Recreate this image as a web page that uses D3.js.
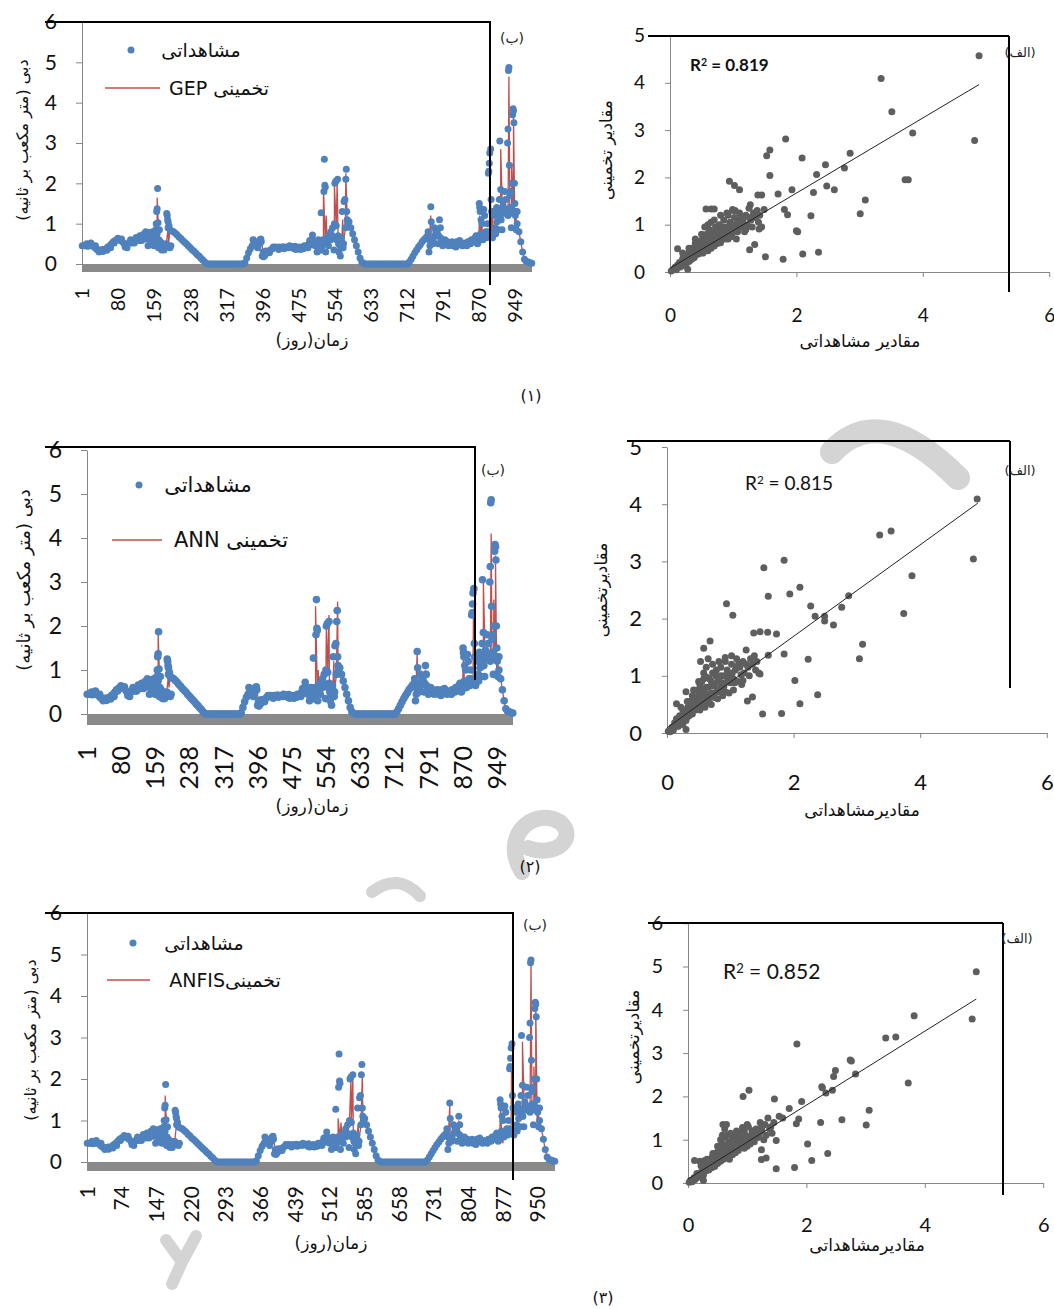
<!DOCTYPE html>
<html>
<head>
<meta charset="utf-8">
<script src="https://cdn.jsdelivr.net/npm/d3@7"></script>
<style>
  body { margin: 0; background: #fff; }
  svg { display: block; }
  .fa { font-family: "DejaVu Sans", sans-serif; direction: rtl; unicode-bidi: embed; }
  .num { font-family: Lato, "Open Sans", sans-serif; }
</style>
</head>
<body>
<svg id="fig" width="1054" height="1309"></svg>
<script>
// ---- data ----
const nDays = 985;
const yTicksSeries = [0, 1, 2, 3, 4, 5, 6];
const dayTicksA = [1, 80, 159, 238, 317, 396, 475, 554, 633, 712, 791, 870, 949];
const dayTicksB = [1, 74, 147, 220, 293, 366, 439, 512, 585, 658, 731, 804, 877, 950];

// observed discharge, main band [day, m3/s]
const obsBase = [
  [1,0.45],[5,0.45],[9,0.45],[13,0.44],[17,0.45],[21,0.48],[25,0.44],[29,0.40],[33,0.36],[37,0.35],
  [41,0.34],[45,0.36],[49,0.35],[53,0.38],[57,0.42],[61,0.45],[65,0.50],[69,0.55],[73,0.58],[77,0.60],
  [81,0.60],[85,0.58],[89,0.55],[93,0.50],[97,0.45],[101,0.50],[105,0.55],[109,0.52],[113,0.58],[117,0.60],
  [121,0.62],[125,0.58],[129,0.65],[133,0.68],[137,0.62],[141,0.70],[145,0.72],[149,0.65],[153,0.60],[157,0.70],
  [161,0.55],[165,0.75],[169,0.60],[173,0.50],[177,0.45],[181,0.40],[185,0.50],[189,0.90],[193,0.85],[197,0.82],
  [201,0.80],[205,0.76],[209,0.72],[213,0.67],[217,0.63],[221,0.58],[225,0.54],[229,0.50],[233,0.45],[237,0.41],
  [241,0.36],[245,0.32],[249,0.28],[253,0.23],[257,0.19],[261,0.14],[265,0.10],[269,0.05],[273,0.01],[277,0],
  [281,0],[285,0],[289,0],[293,0],[297,0],[301,0],[305,0],[309,0],[313,0],[317,0],
  [321,0],[325,0],[329,0],[333,0],[337,0],[341,0],[345,0],[349,0],[353,0],[357,0.03],
  [361,0.15],[365,0.28],[369,0.38],[373,0.45],[377,0.50],[381,0.45],[385,0.40],[389,0.50],[393,0.55],[397,0.30],
  [401,0.22],[405,0.28],[409,0.32],[413,0.35],[417,0.38],[421,0.40],[425,0.42],[429,0.40],[433,0.42],[437,0.40],
  [441,0.43],[445,0.41],[449,0.42],[453,0.40],[457,0.42],[461,0.43],[465,0.38],[469,0.36],[473,0.40],[477,0.42],
  [481,0.40],[485,0.38],[489,0.42],[493,0.45],[497,0.50],[501,0.55],[505,0.62],[509,0.55],[513,0.50],[517,0.45],
  [521,0.40],[525,0.35],[529,0.50],[533,0.55],[537,0.60],[541,0.70],[545,0.80],[549,0.90],[553,1.00],[557,0.95],
  [561,0.70],[565,0.60],[569,0.55],[573,0.50],[577,0.90],[581,1.10],[585,1.05],[589,0.90],[593,0.75],[597,0.60],
  [601,0.45],[605,0.30],[609,0.15],[613,0.05],[617,0.01],[621,0],[625,0],[629,0],[633,0],[637,0],
  [641,0],[645,0],[649,0],[653,0],[657,0],[661,0],[665,0],[669,0],[673,0],[677,0],
  [681,0],[685,0],[689,0],[693,0],[697,0],[701,0],[705,0],[709,0],[713,0],[717,0.05],
  [721,0.12],[725,0.20],[729,0.28],[733,0.35],[737,0.42],[741,0.48],[745,0.55],[749,0.60],[753,0.65],[757,0.70],
  [761,0.60],[765,0.55],[769,0.60],[773,0.70],[777,0.75],[781,0.70],[785,0.65],[789,0.60],[793,0.55],[797,0.50],
  [801,0.55],[805,0.50],[809,0.48],[813,0.45],[817,0.50],[821,0.55],[825,0.50],[829,0.48],[833,0.45],[837,0.50],
  [841,0.50],[845,0.55],[849,0.55],[853,0.60],[857,0.60],[861,0.65],[865,0.60],[869,0.65],[873,0.75],[877,0.65],
  [881,0.70],[885,0.75],[889,0.80],[893,0.70],[897,0.75],[901,0.75],[905,0.90],[909,1.05],[913,1.20],[917,1.10],
  [921,1.25],[925,1.30],[929,1.35],[933,1.20],[937,1.30],[941,1.35],[945,1.25],[949,1.20],[953,1.00],[957,0.80],
  [961,0.55],[965,0.30],[969,0.12],[973,0.06],[977,0.05],[981,0.03],[985,0.02]
];

// observed discharge, scattered extra readings [day, m3/s]
const obsSpikes = [
  [11,0.50],[20,0.52],[30,0.45],[38,0.30],[46,0.31],[55,0.34],[63,0.40],[71,0.52],[79,0.64],[87,0.62],
  [95,0.42],[99,0.40],[107,0.60],[115,0.52],[119,0.66],[127,0.70],[131,0.58],[135,0.74],[143,0.62],[147,0.78],
  [140,0.80],[145,0.45],[150,0.50],[155,0.80],[158,0.45],[160,0.55],[162,0.85],[163,1.00],[164,1.30],[165,1.37],
  [166,1.87],[167,1.02],[168,0.40],[170,0.85],[172,0.55],[175,0.35],[178,0.50],[180,0.35],[183,0.45],
  [186,1.25],[187,1.20],[188,1.10],[189,1.05],[191,0.95],[193,0.40],[195,0.45],
  [375,0.60],[380,0.55],[390,0.60],[392,0.62],[395,0.20],[398,0.18],[403,0.32],[411,0.28],[419,0.42],[431,0.36],
  [443,0.38],[455,0.45],[467,0.44],[479,0.36],[487,0.45],[495,0.40],[499,0.58],[503,0.48],[511,0.45],
  [505,0.72],[515,0.30],[518,0.60],[522,0.35],[524,1.27],[526,0.45],[528,0.60],[530,1.80],[531,2.60],[532,1.95],
  [533,1.90],[534,0.30],[536,0.65],[540,0.45],[545,0.60],[548,0.70],[552,0.35],[554,2.00],[556,2.05],[558,0.60],
  [560,2.10],[562,0.50],[563,0.30],[565,0.45],[566,0.20],[568,0.65],[570,1.30],[572,0.40],[574,1.55],[576,1.60],
  [578,2.10],[579,2.35],[580,1.30],[582,1.00],
  [758,0.80],[760,0.30],[762,0.45],[764,1.42],[765,1.05],[768,0.50],[772,0.90],[775,0.80],[780,0.50],[783,1.10],
  [785,0.90],[790,0.45],[795,0.60],[803,0.45],[811,0.55],[819,0.42],[827,0.58],[835,0.52],[843,0.45],[851,0.50],
  [859,0.55],[863,0.70],[867,0.52],
  [866,0.50],[870,1.50],[871,1.40],[872,1.30],[874,1.10],[876,1.00],[878,0.60],[880,1.35],[882,1.20],[884,0.80],
  [886,0.65],[888,1.00],[890,2.25],[891,2.30],[892,2.50],[893,2.75],[895,2.85],[896,1.60],[897,1.30],[899,0.65],
  [902,1.30],[904,1.20],[906,0.75],[908,1.40],[910,1.30],[912,0.85],[914,1.60],[915,3.05],[917,1.85],[918,1.10],
  [920,0.85],[922,1.45],[924,1.30],[926,1.80],[928,1.60],[930,1.25],[932,3.00],[933,3.35],[934,4.80],[935,4.87],
  [936,2.45],[937,1.70],[938,1.40],[939,1.80],[940,0.90],[942,2.00],[943,3.70],[944,3.85],[945,3.80],[946,3.50],
  [947,2.00],[948,1.50],[949,1.30],[951,0.85],[953,1.30]
];

// predicted excursions away from the observed band, per model [day, m3/s]
const gepPeaks = [[165,1.65],[190,0.50],[523,0.65],[529,1.90],[535,1.20],[553,1.95],[559,2.00],[571,1.10],[578,2.25],
  [764,1.20],[783,0.95],[871,1.20],[876,1.00],[893,2.20],[899,1.30],[917,2.85],[926,1.60],[935,4.65],[941,2.50],[945,3.75],[948,0.85]];
const annPeaks = [[165,1.85],[190,0.60],[529,2.45],[535,1.00],[554,2.05],[560,2.25],[571,1.20],[580,2.55],
  [764,1.40],[783,1.00],[871,1.30],[894,2.40],[917,3.05],[926,1.50],[935,4.10],[941,2.60],[945,3.60],[948,0.80]];
const anfisPeaks = [[165,1.60],[529,1.05],[535,0.95],[556,2.00],[560,2.00],[571,0.90],[580,2.10],
  [764,1.35],[783,1.00],[871,1.30],[876,0.45],[894,2.20],[917,2.90],[926,1.40],[935,4.85],[941,2.30],[945,3.85],[948,0.90]];

// scatter: [observed, predicted]
const gepPairs = [
  [0.02,0.02],[0.05,0.05],[0.08,0.10],[0.10,0.05],[0.12,0.15],[0.15,0.20],[0.18,0.12],[0.20,0.28],[0.22,0.20],[0.25,0.35],
  [0.25,0.15],[0.28,0.30],[0.30,0.42],[0.30,0.22],[0.33,0.35],[0.35,0.50],[0.35,0.28],[0.38,0.42],[0.40,0.60],[0.40,0.35],
  [0.42,0.48],[0.45,0.55],[0.45,0.38],[0.48,0.65],[0.48,0.45],[0.50,0.52],[0.52,0.72],[0.52,0.40],[0.55,0.60],[0.55,0.48],
  [0.58,0.80],[0.58,0.55],[0.60,0.65],[0.60,0.45],[0.62,0.90],[0.63,0.58],[0.65,0.72],[0.65,1.05],[0.68,0.62],[0.70,0.85],
  [0.70,0.55],[0.72,0.95],[0.75,0.70],[0.75,0.80],[0.78,1.00],[0.80,0.75],[0.80,0.62],[0.82,0.90],[0.85,1.10],[0.85,0.80],
  [0.88,0.70],[0.90,0.95],[0.92,1.20],[0.95,0.85],[0.95,1.05],[0.98,0.75],[1.00,1.00],[1.02,1.15],[1.05,0.90],[1.05,0.70],
  [1.08,1.05],[1.10,1.25],[1.12,0.95],[1.15,1.10],[1.18,0.85],[1.20,1.20],[1.22,1.00],[1.25,1.35],[1.28,1.10],[1.30,0.95],
  [1.32,1.25],[1.35,1.15],[1.38,1.30],[1.40,1.05],[1.42,1.20],[1.45,0.95],
  [0.15,0.10],[0.20,0.15],[0.25,0.25],[0.30,0.30],[0.32,0.25],[0.35,0.40],[0.38,0.30],[0.40,0.45],[0.42,0.38],[0.45,0.45],
  [0.47,0.55],[0.50,0.42],[0.50,0.62],[0.53,0.55],[0.55,0.70],[0.57,0.45],[0.60,0.55],[0.62,0.70],[0.65,0.50],[0.67,0.80],
  [0.70,0.65],[0.72,0.75],[0.75,0.60],[0.77,0.90],[0.80,0.85],[0.83,0.70],[0.85,0.95],[0.87,0.85],[0.90,0.80],[0.92,0.70],
  [0.95,1.00],[0.97,0.95],[1.00,0.85],[1.03,1.00],[1.07,0.85],[1.10,1.10],[1.13,1.15],[1.17,1.00],[1.20,0.90],[1.25,1.15],
  [0.20,0.40],[0.30,0.50],[0.40,0.70],[0.50,0.80],[0.55,0.95],[0.60,1.00],[0.70,1.10],[0.80,1.20],[0.90,1.25],[1.00,1.30],
  [4.89,4.57],[3.34,4.09],[3.51,3.39],[3.84,2.94],[4.82,2.78],[3.72,1.95],[3.77,1.95],[3.09,1.52],[3.01,1.23],[1.83,2.81],
  [1.58,2.58],[1.53,2.46],[1.58,2.04],[2.09,2.41],[2.46,2.27],[2.32,2.06],[2.85,2.51],[2.76,2.20],[2.48,1.82],[2.60,1.74],
  [2.27,1.68],[1.93,1.74],[1.71,1.65],[1.39,1.63],[1.45,1.63],[0.94,1.92],[1.02,1.83],[1.10,1.74],[1.81,1.32],[1.86,1.21],
  [2.23,1.19],[2.02,0.85],[2.00,0.87],[2.10,0.38],[2.35,0.42],[1.79,0.27],[1.51,0.32],[1.34,0.58],[1.26,0.47],[1.41,0.91],
  [0.12,0.49],[0.28,0.06],[0.57,1.33],[0.65,1.33],[0.70,1.33],[0.99,1.32],[1.03,1.30],[1.27,1.42],[1.49,1.32]
];
const annPairs = [
  [0.02,0.03],[0.05,0.02],[0.08,0.10],[0.10,0.05],[0.12,0.18],[0.15,0.25],[0.18,0.12],[0.20,0.30],[0.22,0.20],[0.25,0.40],
  [0.25,0.15],[0.28,0.32],[0.30,0.72],[0.30,0.22],[0.33,0.45],[0.35,0.55],[0.35,0.30],[0.38,0.40],[0.40,0.65],[0.40,0.33],
  [0.42,0.50],[0.45,0.60],[0.45,0.40],[0.48,0.75],[0.48,0.45],[0.50,0.55],[0.52,0.85],[0.52,0.40],[0.55,0.90],[0.55,0.50],
  [0.58,0.95],[0.58,0.60],[0.60,0.70],[0.60,0.45],[0.62,1.15],[0.63,0.55],[0.65,0.80],[0.65,1.30],[0.68,0.62],[0.70,0.90],
  [0.70,0.50],[0.72,1.05],[0.75,0.70],[0.75,0.85],[0.78,1.10],[0.80,0.75],[0.80,0.60],[0.82,0.95],[0.85,1.15],[0.85,0.80],
  [0.88,0.65],[0.90,1.00],[0.92,1.25],[0.95,0.90],[0.95,1.10],[0.98,0.70],[1.00,1.00],[1.02,1.20],[1.05,0.95],[1.05,0.75],
  [1.08,1.10],[1.10,1.30],[1.12,0.90],[1.15,1.15],[1.18,0.85],[1.20,1.25],[1.22,1.05],[1.25,1.45],[1.28,1.15],[1.30,1.00],
  [1.32,1.30],[1.35,1.20],[1.38,1.35],[1.40,1.10],[1.42,1.25],[1.45,1.05],
  [0.15,0.12],[0.20,0.18],[0.25,0.28],[0.30,0.35],[0.32,0.28],[0.35,0.45],[0.38,0.55],[0.40,0.48],[0.42,0.40],[0.45,0.50],
  [0.47,0.62],[0.50,0.45],[0.50,0.68],[0.53,0.60],[0.55,0.75],[0.57,0.48],[0.60,0.62],[0.62,0.80],[0.65,0.55],[0.67,0.95],
  [0.70,0.70],[0.72,0.82],[0.75,0.62],[0.77,1.00],[0.80,0.90],[0.83,0.72],[0.85,1.00],[0.87,0.88],[0.90,0.82],[0.92,0.72],
  [0.95,1.02],[0.97,0.98],[1.00,0.88],[1.03,1.05],[1.07,0.88],[1.10,1.15],[1.13,1.20],[1.17,1.02],[1.20,0.92],[1.25,1.20],
  [0.22,0.45],[0.32,0.55],[0.42,0.75],[0.50,0.90],[0.58,1.05],[0.62,0.98],[0.72,1.20],[0.82,1.25],[0.92,1.32],[1.02,1.35],
  [4.90,4.09],[3.36,3.46],[3.54,3.53],[4.84,3.04],[3.87,2.75],[3.74,2.09],[3.09,1.55],[3.04,1.30],[1.85,3.02],[1.53,2.89],
  [1.60,2.39],[1.94,2.43],[2.10,2.55],[2.27,2.22],[2.34,2.04],[2.49,2.04],[2.49,1.96],[2.63,1.89],[2.76,2.20],[2.87,2.40],
  [0.94,2.26],[1.04,2.06],[1.37,1.75],[1.47,1.77],[1.59,1.76],[1.73,1.73],[1.85,1.38],[1.60,1.36],[2.23,1.29],[2.02,0.92],
  [2.10,0.51],[2.38,0.67],[1.81,0.34],[1.51,0.33],[1.27,0.56],[1.35,0.63],[1.47,1.03],[0.68,1.61],[0.58,1.48],[0.53,1.25],
  [0.30,0.06],[0.15,0.51]
];
const anfisPairs = [
  [0.02,0.02],[0.04,0.06],[0.07,0.03],[0.10,0.12],[0.12,0.08],[0.15,0.22],[0.18,0.15],[0.20,0.50],[0.22,0.25],[0.25,0.35],
  [0.26,0.18],[0.28,0.52],[0.30,0.28],[0.32,0.40],[0.35,0.50],[0.35,0.30],[0.38,0.45],[0.40,0.58],[0.40,0.35],[0.42,0.62],
  [0.45,0.50],[0.45,0.38],[0.48,0.70],[0.50,0.45],[0.50,0.60],[0.52,0.80],[0.55,0.50],[0.55,0.65],[0.58,0.90],[0.58,1.10],
  [0.60,0.55],[0.60,0.75],[0.62,1.25],[0.63,0.85],[0.65,0.60],[0.66,1.10],[0.68,0.70],[0.70,0.95],[0.70,0.55],[0.72,0.80],
  [0.75,1.05],[0.75,0.65],[0.78,0.90],[0.80,1.10],[0.80,0.70],[0.82,0.85],[0.85,1.00],[0.85,0.75],[0.88,1.15],[0.90,0.90],
  [0.92,1.05],[0.95,0.80],[0.95,1.20],[0.98,1.00],[1.00,0.85],[1.02,1.30],[1.05,1.05],[1.05,0.90],[1.08,1.20],[1.10,1.00],
  [1.12,0.95],[1.15,1.25],[1.18,1.05],[1.20,1.10],[1.22,1.40],[1.25,1.20],[1.28,1.00],[1.30,1.35],[1.32,1.10],[1.35,1.50],
  [1.38,1.25],[1.40,1.30],[1.42,1.15],[1.45,1.40],
  [0.15,0.12],[0.20,0.20],[0.25,0.22],[0.30,0.38],[0.32,0.30],[0.35,0.42],[0.38,0.35],[0.40,0.48],[0.42,0.45],[0.45,0.58],
  [0.47,0.48],[0.50,0.52],[0.50,0.70],[0.53,0.62],[0.55,0.78],[0.57,0.55],[0.60,0.68],[0.62,0.60],[0.65,0.78],[0.67,0.90],
  [0.70,0.75],[0.72,0.68],[0.75,0.85],[0.77,0.95],[0.80,0.82],[0.83,0.95],[0.85,0.88],[0.87,1.05],[0.90,1.00],[0.92,0.85],
  [0.95,1.00],[0.97,1.10],[1.00,1.05],[1.03,0.95],[1.07,1.10],[1.10,1.20],[1.13,1.08],[1.17,1.15],[1.20,1.25],[1.25,1.30],
  [0.22,0.40],[0.32,0.55],[0.42,0.68],[0.50,0.85],[0.55,1.00],[0.62,1.05],[0.72,1.15],[0.82,1.20],[0.92,1.28],[1.00,1.35],
  [4.87,4.88],[3.82,3.86],[4.80,3.79],[3.34,3.35],[3.51,3.37],[3.72,2.31],[3.06,1.68],[3.01,1.34],[1.84,3.21],[2.74,2.84],
  [2.76,2.82],[2.83,2.52],[2.49,2.60],[2.46,2.46],[2.26,2.22],[2.27,2.20],[2.44,2.14],[2.33,2.08],[0.93,2.00],[1.03,2.14],
  [1.46,1.94],[1.92,1.88],[1.71,1.72],[1.54,1.54],[1.60,1.50],[1.87,1.48],[1.83,1.37],[2.24,1.40],[2.60,1.46],[2.02,0.90],
  [2.09,0.52],[2.36,0.68],[1.80,0.36],[1.49,0.33],[1.24,0.54],[1.32,0.58],[1.24,0.77],[1.49,0.98],[0.26,0.06],[0.11,0.52],
  [0.59,1.35],[0.65,1.35]
];

const r2Values = [0.819, 0.815, 0.852];
const fitSlope = [0.794, 0.800, 0.854];
const fitIntercept = [0.08, 0.09, 0.09];
const fitEnd = [4.89, 4.91, 4.87];

const obsLabel = "مشاهداتی";
const predLabels = ["تخمینی GEP", "تخمینی ANN", "تخمینیANFIS"];
const seriesYTitle = "دبی (متر مکعب بر ثانیه)";
const seriesXTitle = "زمان(روز)";
const scatterXTitles = ["مقادیر مشاهداتی", "مقادیرمشاهداتی", "مقادیرمشاهداتی"];
const scatterYTitles = ["مقادیر تخمینی", "مقادیرتخمینی", "مقادیرتخمینی"];
const captions = ["(۱)", "(۲)", "(۳)"];

const svg = d3.select("#fig");

// faint watermark strokes behind everything
const wm = svg.append("g").attr("fill", "none").attr("stroke", "#d4d4d4").attr("stroke-linecap", "round");
wm.append("path").attr("d", "M832,452 Q880,400 958,478").attr("stroke-width", 24);
wm.append("path").attr("d", "M522,872 C500,838 532,806 560,822 C578,838 556,858 528,848").attr("stroke-width", 16);
wm.append("path").attr("d", "M372,892 Q398,872 420,896").attr("stroke-width", 12);
wm.append("path").attr("d", "M166,1240 L182,1262 L196,1236 M182,1262 L172,1284").attr("stroke-width", 12);

function grayAxis(sel) {
  sel.select(".domain").attr("stroke", "#868686");
  sel.selectAll(".tick line").attr("stroke", "#868686");
}

function drawSeries(cfg) {
  const g = svg.append("g");
  const x = d3.scaleLinear().domain([0.5, nDays + 0.5]).range([cfg.left, cfg.right]);
  const y = d3.scaleLinear().domain([0, 6]).range([cfg.y0, cfg.y6]);

  // grey floor under the zero line
  g.append("rect")
    .attr("x", cfg.left).attr("y", y(0))
    .attr("width", cfg.right - cfg.left).attr("height", cfg.band)
    .attr("fill", "#8a8a8a");

  g.append("g")
    .attr("transform", `translate(${cfg.left},0)`)
    .call(d3.axisLeft(y).tickValues(yTicksSeries).tickSize(6).tickSizeOuter(0).tickFormat(d3.format("d")))
    .call(grayAxis)
    .call((a) => a.selectAll("text").attr("class", "num").attr("font-size", cfg.yFont)
      .attr("fill", "#111").attr("x", -25));

  // rotated day labels
  g.selectAll("text.day")
    .data(cfg.ticks)
    .join("text")
    .attr("class", "num day")
    .attr("transform", (d) => `translate(${x(d)},${cfg.labTop}) rotate(-90)`)
    .attr("text-anchor", "end")
    .attr("dy", "0.35em")
    .attr("font-size", cfg.xFont)
    .attr("fill", "#111")
    .text((d) => d);

  // predicted line: observed band with the model's own excursions
  const predicted = d3.sort(obsBase.concat(cfg.peaks), (d) => d[0]);
  g.append("path")
    .datum(predicted)
    .attr("fill", "none")
    .attr("stroke", "#C0504D")
    .attr("stroke-width", 1.3)
    .attr("d", d3.line().x((d) => x(d[0])).y((d) => y(d[1])));

  g.append("g")
    .selectAll("circle")
    .data(obsBase.concat(obsSpikes))
    .join("circle")
    .attr("cx", (d) => x(d[0]))
    .attr("cy", (d) => y(d[1]))
    .attr("r", cfg.r)
    .attr("fill", "#4F81BD");

  // legend
  const L = cfg.legend;
  g.append("circle").attr("cx", L.dotX).attr("cy", L.dotY).attr("r", 3.5).attr("fill", "#4F81BD");
  g.append("text").attr("class", "fa").attr("x", L.obsX).attr("y", L.dotY).attr("dy", "0.35em")
    .attr("text-anchor", "middle").attr("font-size", L.font).attr("fill", "#111").text(obsLabel);
  g.append("line").attr("x1", L.lineX1).attr("x2", L.lineX2).attr("y1", L.lineY).attr("y2", L.lineY)
    .attr("stroke", "#C0504D").attr("stroke-width", 1.3);
  g.append("text").attr("class", "fa").attr("x", L.predX).attr("y", L.lineY).attr("dy", "0.35em")
    .attr("text-anchor", "middle").attr("font-size", L.font).attr("fill", "#111").text(cfg.predLabel);

  // titles
  g.append("text").attr("class", "fa")
    .attr("transform", `translate(${cfg.yTitle[0]},${cfg.yTitle[1]}) rotate(-90)`)
    .attr("text-anchor", "middle").attr("dy", "0.35em")
    .attr("font-size", cfg.yTitle[2]).attr("fill", "#111").text(seriesYTitle);
  g.append("text").attr("class", "fa").attr("x", cfg.xTitle[0]).attr("y", cfg.xTitle[1])
    .attr("text-anchor", "middle").attr("font-size", 17).attr("fill", "#111").text(seriesXTitle);

  // frame lines of the page layout
  const F = cfg.frame;
  g.append("path")
    .attr("d", `M${F.x1},${F.top}H${F.vx}V${F.bottom}`)
    .attr("fill", "none").attr("stroke", "#000").attr("stroke-width", 2);
  g.append("text").attr("class", "fa").attr("x", cfg.tag[0]).attr("y", cfg.tag[1])
    .attr("text-anchor", "middle").attr("dy", "0.35em").attr("font-size", 14).attr("fill", "#222").text("(ب)");
}

function drawScatter(cfg, i) {
  const g = svg.append("g");
  const x = d3.scaleLinear().domain([0, 6]).range([cfg.x0, cfg.x0 + 6 * cfg.ux]);
  const y = d3.scaleLinear().domain([0, cfg.ymax]).range([cfg.y0, cfg.y0 - cfg.ymax * cfg.uy]);

  g.append("g")
    .attr("transform", `translate(0,${cfg.y0})`)
    .call(d3.axisBottom(x).tickValues([0, 2, 4, 6]).tickSize(5).tickSizeOuter(0).tickFormat(d3.format("d")))
    .call(grayAxis)
    .call((a) => a.selectAll("text").attr("class", "num").attr("font-size", cfg.tickFont)
      .attr("fill", "#111").attr("y", cfg.xLabOff).attr("dy", "0.35em"));

  g.append("g")
    .attr("transform", `translate(${cfg.x0},0)`)
    .call(d3.axisLeft(y).tickValues(d3.range(0, cfg.ymax + 1)).tickSize(5).tickSizeOuter(0).tickFormat(d3.format("d")))
    .call(grayAxis)
    .call((a) => a.selectAll("text").attr("class", "num").attr("font-size", cfg.tickFont)
      .attr("fill", "#111").attr("x", -25));

  g.append("g")
    .selectAll("circle")
    .data(cfg.pairs)
    .join("circle")
    .attr("cx", (d) => x(d[0]))
    .attr("cy", (d) => y(d[1]))
    .attr("r", 3.5)
    .attr("fill", "#5e5e5e");

  g.append("line")
    .attr("x1", x(0)).attr("y1", y(fitIntercept[i]))
    .attr("x2", x(fitEnd[i])).attr("y2", y(fitIntercept[i] + fitSlope[i] * fitEnd[i]))
    .attr("stroke", "#222").attr("stroke-width", 1);

  const r2 = g.append("text").attr("class", "num").attr("x", cfg.r2[0]).attr("y", cfg.r2[1])
    .attr("dy", "0.35em").attr("font-size", cfg.r2[2]).attr("font-weight", cfg.r2[3]).attr("fill", "#111");
  r2.append("tspan").text("R");
  r2.append("tspan").attr("font-size", cfg.r2[2] * 0.62).attr("dy", "-0.45em").text("2");
  r2.append("tspan").attr("dy", "0.28em").text(" = " + r2Values[i].toFixed(3));

  g.append("text").attr("class", "fa")
    .attr("transform", `translate(${cfg.yTitle[0]},${cfg.yTitle[1]}) rotate(-90)`)
    .attr("text-anchor", "middle").attr("dy", "0.35em")
    .attr("font-size", 17).attr("fill", "#111").text(scatterYTitles[i]);
  g.append("text").attr("class", "fa").attr("x", cfg.xTitle[0]).attr("y", cfg.xTitle[1])
    .attr("text-anchor", "middle").attr("dy", "0.35em").attr("font-size", 17).attr("fill", "#111")
    .text(scatterXTitles[i]);

  const F = cfg.frame;
  g.append("path")
    .attr("d", `M${F.x1},${F.top}H${F.vx}M${F.vx},${F.top}V${F.bottom}`)
    .attr("fill", "none").attr("stroke", "#000").attr("stroke-width", 2);
  g.append("text").attr("class", "fa").attr("x", cfg.tag[0]).attr("y", cfg.tag[1])
    .attr("text-anchor", "middle").attr("dy", "0.35em").attr("font-size", 13).attr("fill", "#222").text("(الف)");
}

const seriesPanels = [
  { peaks: gepPeaks, predLabel: predLabels[0], ticks: dayTicksA,
    left: 82, right: 532, y0: 264, y6: 22, band: 8, r: 3.5, yFont: 21, xFont: 20, labTop: 288,
    legend: { dotX: 131, dotY: 50, obsX: 201, lineX1: 105, lineX2: 160, lineY: 88, predX: 219, font: 19 },
    yTitle: [22, 140, 16], xTitle: [312, 346], frame: { x1: 45, top: 22, vx: 490, bottom: 285 }, tag: [512, 38] },
  { peaks: annPeaks, predLabel: predLabels[1], ticks: dayTicksA,
    left: 87, right: 513, y0: 714, y6: 450, band: 11, r: 3.8, yFont: 23, xFont: 25, labTop: 746,
    legend: { dotX: 139, dotY: 485, obsX: 208, lineX1: 112, lineX2: 162, lineY: 540, predX: 231, font: 21 },
    yTitle: [24, 580, 18], xTitle: [312, 812], frame: { x1: 45, top: 447, vx: 475, bottom: 680 }, tag: [493, 470] },
  { peaks: anfisPeaks, predLabel: predLabels[2], ticks: dayTicksB,
    left: 87, right: 555, y0: 1162, y6: 913, band: 9, r: 3.5, yFont: 21, xFont: 21, labTop: 1186,
    legend: { dotX: 133, dotY: 943, obsX: 204, lineX1: 107, lineX2: 150, lineY: 980, predX: 225, font: 19 },
    yTitle: [30, 1040, 16], xTitle: [331, 1249], frame: { x1: 45, top: 913, vx: 513, bottom: 1180 }, tag: [535, 925] }
];

const scatterPanels = [
  { pairs: gepPairs, x0: 670, ux: 63.2, y0: 272, uy: 47.3, ymax: 5, tickFont: 19, xLabOff: 43,
    r2: [690, 65, 17, "bold"], yTitle: [606, 150], xTitle: [860, 341],
    frame: { x1: 648, top: 36, vx: 1009, bottom: 292 }, tag: [1020, 52] },
  { pairs: annPairs, x0: 667, ux: 63.3, y0: 733, uy: 57.2, ymax: 5, tickFont: 22, xLabOff: 49,
    r2: [745, 483, 19, "normal"], yTitle: [601, 590], xTitle: [862, 810],
    frame: { x1: 627, top: 441, vx: 1010, bottom: 688 }, tag: [1020, 470] },
  { pairs: anfisPairs, x0: 688, ux: 59.2, y0: 1183, uy: 43.3, ymax: 6, tickFont: 20, xLabOff: 42,
    r2: [723, 972, 21, "normal"], yTitle: [633, 1037], xTitle: [867, 1245],
    frame: { x1: 648, top: 923, vx: 1003, bottom: 1195 }, tag: [1017, 938] }
];

seriesPanels.forEach((p) => drawSeries(p));
scatterPanels.forEach((p, i) => drawScatter(p, i));

// panel captions
const capPos = [[531, 395], [530, 866], [603, 1297]];
svg.selectAll("text.cap")
  .data(captions)
  .join("text")
  .attr("class", "cap")
  .attr("x", (d, i) => capPos[i][0])
  .attr("y", (d, i) => capPos[i][1])
  .attr("dy", "0.35em")
  .attr("text-anchor", "middle")
  .attr("font-family", "DejaVu Sans, sans-serif")
  .attr("font-size", 16)
  .attr("fill", "#111")
  .text((d) => d);
</script>
</body>
</html>
